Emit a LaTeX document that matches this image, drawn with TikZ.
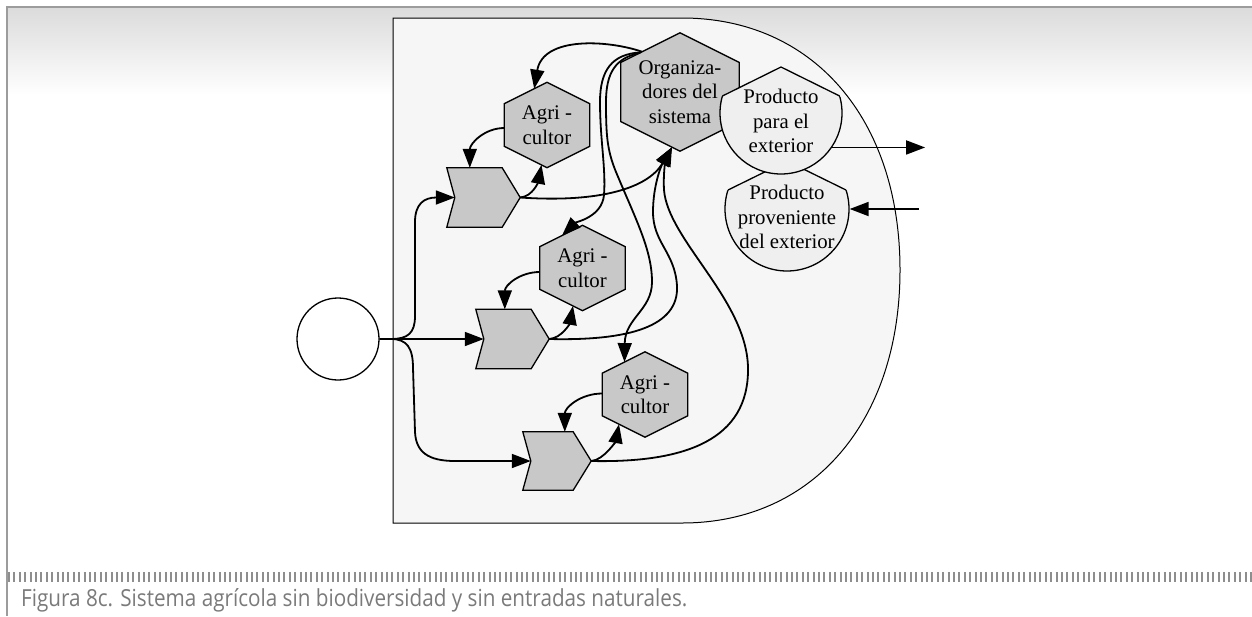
\documentclass[tikz,border=0pt]{standalone}
\usepackage{fontspec}
\setmainfont{Liberation Serif}
\newfontfamily\captionfont[FakeStretch=0.88]{Open Sans}
\usetikzlibrary{arrows.meta,calc}

\definecolor{boxfill}{HTML}{F6F6F6}
\definecolor{hexfill}{HTML}{C8C8C8}
\definecolor{prodfill}{HTML}{EFEFEF}
\definecolor{framegray}{HTML}{9C9C9C}
\definecolor{tickgray}{HTML}{8E8E8E}
\definecolor{captiongray}{HTML}{7A7A7A}

\pgfdeclarelayer{back}
\pgfdeclarelayer{shapes}
\pgfsetlayers{back,shapes,main}

\tikzset{
  nodetext/.style={font=\fontsize{20.8pt}{24.5pt}\selectfont, align=center, inner sep=0pt},
  hexnode/.style={nodetext, rectangle, minimum width=85pt, minimum height=85pt},
  chevnode/.style={rectangle, inner sep=0pt, minimum height=59pt},
  hexshape/.style={fill=hexfill, draw=black, line width=1.3pt, line join=miter},
  prodshape/.style={circle, fill=prodfill, draw=black, line width=1.3pt, inner sep=0pt},
  roofline/.style={draw=black, line width=1.3pt, line join=miter},
  conn/.style={draw=black, line width=1.8pt, -{Triangle[length=19pt,width=14pt]}},
}

\begin{document}
\begin{tikzpicture}[x=1pt,y=-1pt]
\useasboundingbox (0,0) rectangle (1252,616);

% ---- actors and stages ----
\node[hexnode, minimum width=118pt, minimum height=118pt] (org) at (680,92) {Organiza-\\dores del\\sistema};
\node[hexnode] (ag1) at (547,125) {Agri -\\cultor};
\node[hexnode] (ag2) at (582.5,268) {Agri -\\cultor};
\node[hexnode] (ag3) at (645,394.5) {Agri -\\cultor};

\node[chevnode, minimum width=73pt] (ch1) at (483.5,197.5) {};
\node[chevnode, minimum width=73pt] (ch2) at (512.5,339) {};
\node[chevnode, minimum width=68pt, minimum height=58pt] (ch3) at (557,461) {};

\node[circle, draw=black, fill=white, line width=1.3pt, inner sep=0pt, minimum size=82pt] (src) at (338,339) {};

\node[nodetext] (pouttext) at (781,121) {Producto\\para el\\exterior};
\node[nodetext] (pintext) at (787,217) {Producto\\proveniente\\del exterior};

% ---- page frame and system boundary ----
\begin{pgfonlayer}{back}
  \shade[top color=black!14, bottom color=white] (7,8) rectangle (1252,95);
  \draw[framegray, line width=2pt] (6,7) -- (1252,7);
  \draw[framegray, line width=2pt] (7,7) -- (7,616);
  \draw[tickgray, line width=10pt, dash pattern=on 2pt off 3.4pt] (8,577) -- (1252,577);
  \path[fill=boxfill, draw=black, line width=1pt]
    (393,18) -- (682,18)
    .. controls (812.8,18) and (900,118.5) .. (900,270)
    .. controls (900,421.5) and (812.8,523) .. (682,523)
    -- (393,523) -- cycle;
\end{pgfonlayer}

% ---- shapes ----
\begin{pgfonlayer}{shapes}
  \foreach \n in {org,ag1,ag2,ag3}
    \path[hexshape] (\n.north)
      -- ($(\n.north east)!.25!(\n.south east)$)
      -- ($(\n.north east)!.75!(\n.south east)$)
      -- (\n.south)
      -- ($(\n.north west)!.75!(\n.south west)$)
      -- ($(\n.north west)!.25!(\n.south west)$) -- cycle;
  \foreach \n in {ch1,ch2,ch3}
    \path[hexshape] (\n.north west)
      -- ($(\n.north east)+(-18,0)$)
      -- (\n.east)
      -- ($(\n.south east)+(-18,0)$)
      -- (\n.south west)
      -- ($(\n.west)+(8,0)$) -- cycle;
  % incoming product: disc under a low roof
  \begin{scope}
    \clip (787,161) -- (987,259.3) -- (987,420) -- (587,420) -- (587,259.3) -- cycle;
    \node[prodshape, minimum size=124pt] (pin) at (787,209) {};
  \end{scope}
  \path[roofline] (728,190) -- (787,161) -- (846,190);
  % outgoing product
  \begin{scope}
    \clip (781,67) -- (981,166) -- (981,300) -- (581,300) -- (581,166) -- cycle;
    \node[prodshape, minimum size=122pt] (pout) at (781,113) {};
  \end{scope}
  \path[roofline] (722.4,96) -- (781,67) -- (839.6,96);
\end{pgfonlayer}

% ---- helper points on the borders ----
\coordinate (orgUL) at ($(org.north west)!.25!(org.south west)$);
\coordinate (ag1UL) at ($(ag1.north west)!.25!(ag1.south west)$);
\coordinate (ag2UL) at ($(ag2.north west)!.25!(ag2.south west)$);
\coordinate (ag3UL) at ($(ag3.north west)!.25!(ag3.south west)$);
\coordinate (orgTip) at ($(org.south)+(-8,-4)$);
\coordinate (outEnd) at ($(pout.-34)+(93,0)$);
\coordinate (inStart) at ($(pin.east)+(69,0)$);

% ---- flows from the source ----
\draw[conn] (src.east) -- (391,339) .. controls (408,339) and (415,333) .. (415,316)
  -- (415,222) .. controls (415,204) and (424,197.5) .. ($(ch1.west)+(8,0)$);
\draw[conn] (src.east) -- ($(ch2.west)+(8,0)$);
\draw[conn] (src.east) -- (391,339) .. controls (407,339) and (413,348) .. (413,368)
  -- (415,432) .. controls (416,452) and (428,461) .. (455,461) -- ($(ch3.west)+(8,0)$);

% ---- farmer <-> stage loops ----
\draw[conn] ($(ag1.west)+(0,3)$) .. controls ($(ag1.west)+(-20,3)$) and ($(ch1.north west)+(23,-24)$) .. ($(ch1.north west)+(23,0)$);
\draw[conn] ($(ag2.west)+(0,4)$) .. controls ($(ag2.west)+(-20,4)$) and ($(ch2.north west)+(29,-24)$) .. ($(ch2.north west)+(29,0)$);
\draw[conn] ($(ag3.west)+(0,-1)$) .. controls ($(ag3.west)+(-22,-1)$) and ($(ch3.north west)+(42,-24)$) .. ($(ch3.north west)+(42,0)$);

\draw[conn] (ch1.east) .. controls ($(ch1.east)+(13,-1)$) and ($(ag1.south)+(-8.5,13)$) .. ($(ag1.south)+(-5.5,-2.8)$);
\draw[conn] (ch2.east) .. controls ($(ch2.east)+(13,-1)$) and ($(ag2.south)+(-12.5,12)$) .. ($(ag2.south)+(-9.5,-4.8)$);
\draw[conn] (ch3.east) .. controls ($(ch3.east)+(13,-1)$) and ($(ag3.south)+(-29,3)$) .. ($(ag3.south)+(-26,-13)$);

% ---- stages feeding the organisers ----
\draw[conn] (ch1.east) .. controls (600,203) and (648,188) .. (orgTip);
\draw[conn] (ch2.east) .. controls (630,341) and (679,326) .. (677,286)
  .. controls (675,252) and (653,243) .. (653,212)
  .. controls (653,186) and (661,166) .. (orgTip);
\draw[conn] (ch3.east) .. controls (685,463) and (749,440) .. (748,368)
  .. controls (747,300) and (668,240) .. (664,190)
  .. controls (663,172) and (666,160) .. (orgTip);

% ---- organisers directing the farmers ----
\draw[conn] ($(org.north)!.64!(orgUL)$) .. controls (608,40) and (543,36) .. ($(ag1.north)!.3!(ag1UL)$);
\draw[conn] ($(org.north)!.66!(orgUL)$) .. controls (612,54) and (600,70) .. (600,102)
  .. controls (600,140) and (606,168) .. (604,195)
  .. controls (602,217) and (576,222) .. ($(ag2.north)!.48!(ag2UL)$);
\draw[conn] ($(org.north)!.68!(orgUL)$) .. controls (616,58) and (606,72) .. (606,102)
  .. controls (606,135) and (607,150) .. (616,172)
  .. controls (636,220) and (652,250) .. (652,282)
  .. controls (652,310) and (625,318) .. ($(ag3.north)!.48!(ag3UL)$);

% ---- exchange with the outside ----
\draw[conn] (pout.-34) -- (outEnd);
\draw[conn] (inStart) -- (pin.east);

% ---- caption ----
\node[anchor=base west, inner sep=0pt, font=\captionfont\fontsize{23.5pt}{27pt}\selectfont, text=captiongray] (caption) at (21,606)
  {Figura 8c. Sistema agrícola sin biodiversidad y sin entradas naturales.};
\end{tikzpicture}
\end{document}
